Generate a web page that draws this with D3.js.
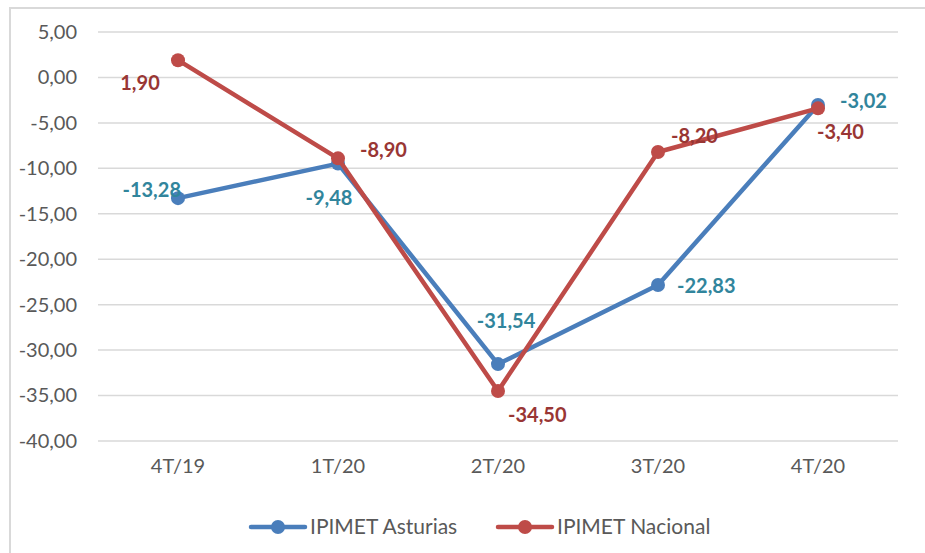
<!DOCTYPE html>
<html>
<head>
<meta charset="utf-8">
<script src="https://d3js.org/d3.v7.min.js"></script>
<style>
  body { margin: 0; background: #ffffff; }
  text { font-family: Lato, "Open Sans", sans-serif; }
</style>
</head>
<body>
<div id="chart"></div>
<script>
// Chart data
var quarters = ["4T/19", "1T/20", "2T/20", "3T/20", "4T/20"];
var asturias = [-13.28, -9.48, -31.54, -22.83, -3.02];
var nacional = [1.9, -8.9, -34.5, -8.2, -3.4];
var yTicks = [5, 0, -5, -10, -15, -20, -25, -30, -35, -40];
var seriesNames = ["IPIMET Asturias", "IPIMET Nacional"];

// Label placement for each point (offsets from the marker, anchor)
var asturiasLabelPos = [
  { dx: 3, dy: -8, anchor: "end" },
  { dx: -9, dy: 34, anchor: "middle" },
  { dx: 8, dy: -43, anchor: "middle" },
  { dx: 19, dy: 1, anchor: "start" },
  { dx: 22, dy: -4, anchor: "start" },
];
var nacionalLabelPos = [
  { dx: -38, dy: 23, anchor: "middle" },
  { dx: 22, dy: -8, anchor: "start" },
  { dx: 10, dy: 24, anchor: "start" },
  { dx: 13, dy: -16, anchor: "start" },
  { dx: -1, dy: 24, anchor: "start" },
];

// Styling
var colors = { asturias: "#4a7ebb", nacional: "#be4b48" };
var labelColors = { asturias: "#31859c", nacional: "#993634" };

// Define SVG area dimensions
var svgWidth = 925;
var svgHeight = 553;

// Plot area
var plot = { left: 98, right: 898, top: 32, bottom: 441 };

var svg = d3
  .select("#chart")
  .append("svg")
  .attr("width", svgWidth)
  .attr("height", svgHeight);

// Outer chart border (only top and left are visible in the frame)
svg
  .append("rect")
  .attr("x", 10)
  .attr("y", 8)
  .attr("width", 940)
  .attr("height", 580)
  .attr("fill", "#ffffff")
  .attr("stroke", "#d9d9d9")
  .attr("stroke-width", 2);

// Scales
var xScale = d3
  .scaleBand()
  .domain(quarters)
  .range([plot.left, plot.right]);

var yScale = d3
  .scaleLinear()
  .domain([-40, 5])
  .range([plot.bottom, plot.top]);

var fmt = function (v) {
  return v.toFixed(2).replace(".", ",");
};

// Gridlines
svg
  .append("g")
  .selectAll("line")
  .data(yTicks)
  .enter()
  .append("line")
  .attr("x1", plot.left)
  .attr("x2", plot.right)
  .attr("y1", (d) => yScale(d))
  .attr("y2", (d) => yScale(d))
  .attr("stroke", "#d9d9d9")
  .attr("stroke-width", 1.5);

// Y axis
var leftAxis = d3
  .axisLeft(yScale)
  .tickValues(yTicks)
  .tickFormat(fmt)
  .tickSize(0)
  .tickPadding(21);

var yAxisG = svg
  .append("g")
  .attr("transform", `translate(${plot.left}, 0)`)
  .call(leftAxis);
yAxisG.select(".domain").remove();
yAxisG
  .selectAll("text")
  .attr("fill", "#595959")
  .style("font-size", "20px")
  .style("font-family", "Lato, sans-serif");

// X axis
var bottomAxis = d3.axisBottom(xScale).tickSize(0).tickPadding(18);
var xAxisG = svg
  .append("g")
  .attr("transform", `translate(0, ${plot.bottom})`)
  .call(bottomAxis);
xAxisG.select(".domain").remove();
xAxisG
  .selectAll("text")
  .attr("fill", "#595959")
  .style("font-size", "20px")
  .style("font-family", "Lato, sans-serif");

var cx = (d, i) => xScale(quarters[i]) + xScale.bandwidth() / 2;

var line = d3
  .line()
  .x((d, i) => cx(d, i))
  .y((d) => yScale(d));

// Draw one series: line and markers
function drawSeries(values, color) {
  var g = svg.append("g");

  g.append("path")
    .datum(values)
    .attr("d", line)
    .attr("fill", "none")
    .attr("stroke", color)
    .attr("stroke-width", 4.5)
    .attr("stroke-linejoin", "round");

  g.selectAll("circle")
    .data(values)
    .enter()
    .append("circle")
    .attr("cx", (d, i) => cx(d, i))
    .attr("cy", (d) => yScale(d))
    .attr("r", 7)
    .attr("fill", color);

  return g;
}

// Draw the value labels of one series
function drawLabels(values, labelColor, labelPos) {
  svg
    .append("g")
    .selectAll("text")
    .data(values)
    .enter()
    .append("text")
    .attr("x", (d, i) => cx(d, i) + labelPos[i].dx)
    .attr("y", (d, i) => yScale(d) + labelPos[i].dy)
    .attr("dy", "0.35em")
    .attr("text-anchor", (d, i) => labelPos[i].anchor)
    .attr("fill", labelColor)
    .style("font-size", "20px")
    .style("font-weight", "bold")
    .text((d) => fmt(d));
}

drawSeries(asturias, colors.asturias);
drawSeries(nacional, colors.nacional);
drawLabels(asturias, labelColors.asturias, asturiasLabelPos);
drawLabels(nacional, labelColors.nacional, nacionalLabelPos);

// Legend
var legendItems = [
  { name: seriesNames[0], color: colors.asturias, x: 251 },
  { name: seriesNames[1], color: colors.nacional, x: 498 },
];
var legendY = 527;

var legend = svg
  .selectAll(".legend")
  .data(legendItems)
  .enter()
  .append("g")
  .attr("class", "legend")
  .attr("transform", (d) => `translate(${d.x}, ${legendY})`);

legend
  .append("line")
  .attr("x1", 0)
  .attr("x2", 54)
  .attr("stroke", (d) => d.color)
  .attr("stroke-width", 4.5)
  .attr("stroke-linecap", "round");

legend
  .append("circle")
  .attr("cx", 27)
  .attr("r", 7)
  .attr("fill", (d) => d.color);

legend
  .append("text")
  .attr("x", 59)
  .attr("dy", "0.35em")
  .attr("fill", "#595959")
  .style("font-size", "21px")
  .text((d) => d.name);
</script>
</body>
</html>
